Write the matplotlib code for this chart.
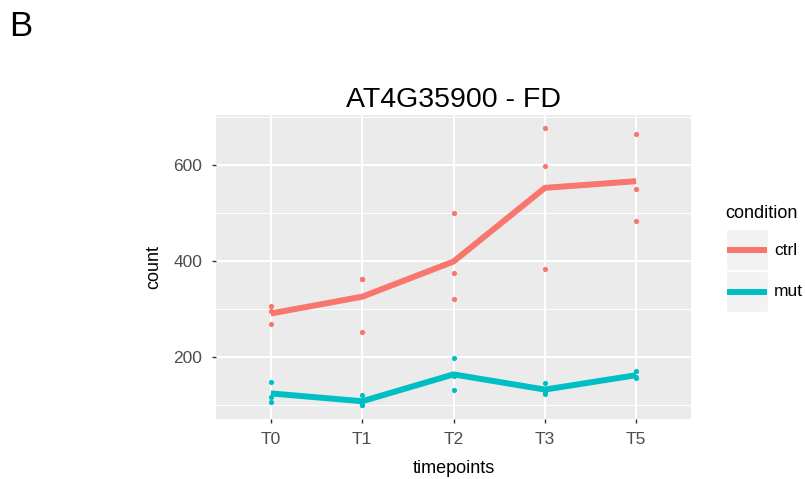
import matplotlib
matplotlib.use("Agg")
import matplotlib.pyplot as plt
from matplotlib.patches import Rectangle
from matplotlib.lines import Line2D
import numpy as np

plt.rcParams['font.family'] = ['Liberation Sans', 'DejaVu Sans']

timepoints = ["T0", "T1", "T2", "T3", "T5"]
conditions = ["ctrl", "mut"]
colors = {"ctrl": "#F8766D", "mut": "#00BFC4"}

# three replicates per timepoint
counts = {
    "ctrl": [[306, 296, 268], [361, 362, 252], [500, 375, 320],
             [676, 597, 383], [665, 550, 483]],
    "mut": [[148, 116, 106], [121, 100, 100], [198, 160, 131],
            [146, 126, 122], [171, 157, 156]],
}

W, H = 805, 479
fig = plt.figure(figsize=(W / 100, H / 100), dpi=100)


def fx(px):
    return px / W


def fy(py):
    return 1 - py / H


ax = fig.add_axes([fx(216), fy(418.5), fx(691) - fx(216), fy(115) - fy(418.5)])
ax.set_facecolor("#EBEBEB")
for s in ax.spines.values():
    s.set_visible(False)

x = np.arange(1, len(timepoints) + 1)
for cond in conditions:
    vals = np.array(counts[cond])
    for i in range(vals.shape[1]):
        ax.scatter(x, vals[:, i], s=14, color=colors[cond], zorder=3, linewidths=0)
    ax.plot(x, vals.mean(axis=1), color=colors[cond], lw=4.3, zorder=4,
            solid_capstyle="butt")

ax.set_xlim(0.4, 5.6)
ax.set_ylim(71, 704)
ax.set_xticks(x)
ax.set_xticklabels(timepoints)
ax.set_yticks([200, 400, 600])
ax.set_yticks([100, 300, 500, 700], minor=True)
ax.grid(which="major", color="white", lw=1.5, zorder=0)
ax.grid(which="minor", axis="y", color="white", lw=0.7, zorder=0)
ax.set_axisbelow(True)
ax.tick_params(which="major", length=3, width=1, color="#333333", pad=7,
               labelsize=12.5, labelcolor="#4D4D4D")
ax.tick_params(which="minor", length=0)

ax.set_xlabel("timepoints", fontsize=13, labelpad=9)
ax.set_ylabel("count", fontsize=13, labelpad=8)
ax.set_title("AT4G35900 - FD", fontsize=20.5, pad=6)

fig.text(fx(9), fy(26), "B", fontsize=25, va="center", ha="left")

# legend
fig.text(fx(725), fy(213), "condition", fontsize=13, va="center", ha="left")
for k, cond in enumerate(conditions):
    top = 229 + 42 * k
    fig.add_artist(Rectangle((fx(726), fy(top + 41)), fx(768) - fx(726),
                             fy(top) - fy(top + 41), transform=fig.transFigure,
                             facecolor="#F2F2F2", edgecolor="white", lw=1))
    fig.add_artist(Line2D([fx(730), fx(764)], [fy(top + 21)] * 2,
                          transform=fig.transFigure, color=colors[cond], lw=4.3))
    fig.text(fx(774), fy(top + 21), cond, fontsize=12.5, va="center", ha="left")

fig.savefig("out.png", dpi=100, facecolor="white")
